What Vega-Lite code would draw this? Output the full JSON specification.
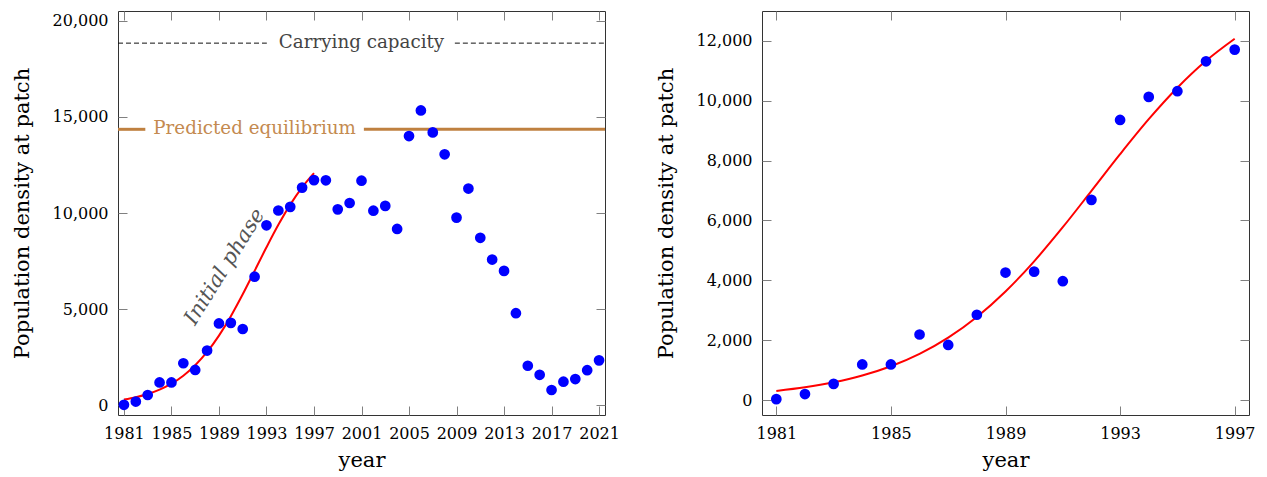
{
  "$schema": "https://vega.github.io/schema/vega-lite/v6.json",
  "padding": {"left": 10, "top": 10, "right": 5, "bottom": 5},
  "datasets": {
    "obs": [
      {"year": 1981, "density": 30}, {"year": 1982, "density": 200}, {"year": 1983, "density": 540},
      {"year": 1984, "density": 1190}, {"year": 1985, "density": 1190}, {"year": 1986, "density": 2190},
      {"year": 1987, "density": 1840}, {"year": 1988, "density": 2850}, {"year": 1989, "density": 4260},
      {"year": 1990, "density": 4290}, {"year": 1991, "density": 3970}, {"year": 1992, "density": 6690},
      {"year": 1993, "density": 9360}, {"year": 1994, "density": 10130}, {"year": 1995, "density": 10320},
      {"year": 1996, "density": 11320}, {"year": 1997, "density": 11710}, {"year": 1998, "density": 11700},
      {"year": 1999, "density": 10190}, {"year": 2000, "density": 10520}, {"year": 2001, "density": 11680},
      {"year": 2002, "density": 10120}, {"year": 2003, "density": 10370}, {"year": 2004, "density": 9170},
      {"year": 2005, "density": 14000}, {"year": 2006, "density": 15330}, {"year": 2007, "density": 14190},
      {"year": 2008, "density": 13050}, {"year": 2009, "density": 9760}, {"year": 2010, "density": 11270},
      {"year": 2011, "density": 8710}, {"year": 2012, "density": 7580}, {"year": 2013, "density": 6990},
      {"year": 2014, "density": 4790}, {"year": 2015, "density": 2060}, {"year": 2016, "density": 1590},
      {"year": 2017, "density": 800}, {"year": 2018, "density": 1230}, {"year": 2019, "density": 1370},
      {"year": 2020, "density": 1830}, {"year": 2021, "density": 2340}
    ],
    "fit": [
      {"year": 1981, "density": 303}, {"year": 1982, "density": 424}, {"year": 1983, "density": 591},
      {"year": 1984, "density": 820}, {"year": 1985, "density": 1130}, {"year": 1986, "density": 1544},
      {"year": 1987, "density": 2086}, {"year": 1988, "density": 2776}, {"year": 1989, "density": 3628},
      {"year": 1990, "density": 4636}, {"year": 1991, "density": 5775}, {"year": 1992, "density": 6990},
      {"year": 1993, "density": 8216}, {"year": 1994, "density": 9384}, {"year": 1995, "density": 10435},
      {"year": 1996, "density": 11335}, {"year": 1997, "density": 12073}
    ],
    "carry": [
      {"from": 1980.5, "to": 1993.03, "level": 18830},
      {"from": 2008.86, "to": 2021.5, "level": 18830}
    ],
    "equil": [
      {"from": 1980.5, "to": 1982.8, "level": 14350},
      {"from": 2001.2, "to": 2021.5, "level": 14350}
    ],
    "notes": [
      {"year": 2001, "density": 18830, "label": "Carrying capacity", "kind": "carry"},
      {"year": 1992, "density": 14350, "label": "Predicted equilibrium", "kind": "equil"}
    ],
    "phase": [
      {"year": 1989.5, "density": 7200, "label": "Initial phase"}
    ]
  },
  "hconcat": [
    {
      "width": 487,
      "height": 404,
      "layer": [
        {
          "data": {"name": "carry"},
          "mark": {"type": "rule", "color": "#111111", "strokeWidth": 1, "strokeDash": [5, 3]},
          "encoding": {
            "x": {"field": "from", "type": "quantitative", "axis": null},
            "x2": {"field": "to"},
            "y": {"field": "level", "type": "quantitative", "axis": null}
          }
        },
        {
          "data": {"name": "equil"},
          "mark": {"type": "rule", "color": "#BF8040", "strokeWidth": 3},
          "encoding": {
            "x": {"field": "from", "type": "quantitative", "axis": null},
            "x2": {"field": "to"},
            "y": {"field": "level", "type": "quantitative", "axis": null}
          }
        },
        {
          "data": {"name": "notes"},
          "mark": {"type": "text", "font": "DejaVu Serif", "fontSize": 18.3, "align": "center", "baseline": "middle"},
          "encoding": {
            "x": {"field": "year", "type": "quantitative", "axis": null},
            "y": {"field": "density", "type": "quantitative", "axis": null},
            "text": {"field": "label"},
            "color": {"field": "kind", "type": "nominal", "scale": {"domain": ["carry", "equil"], "range": ["#444444", "#C48A50"]}, "legend": null}
          }
        },
        {
          "data": {"name": "phase"},
          "mark": {"type": "text", "font": "DejaVu Serif", "fontSize": 21, "fontStyle": "italic", "color": "#555555", "angle": 302, "align": "center", "baseline": "middle"},
          "encoding": {
            "x": {"field": "year", "type": "quantitative", "axis": null},
            "y": {"field": "density", "type": "quantitative", "axis": null},
            "text": {"field": "label"}
          }
        },
        {
          "data": {"name": "fit"},
          "mark": {"type": "line", "color": "#FF0000", "strokeWidth": 2, "interpolate": "monotone"},
          "encoding": {
            "x": {"field": "year", "type": "quantitative", "axis": {"orient": "top", "labels": false, "title": null, "values": [1981, 1985, 1989, 1993, 1997, 2001, 2005, 2009, 2013, 2017, 2021]}},
            "y": {"field": "density", "type": "quantitative", "axis": {"orient": "right", "labels": false, "title": null, "values": [0, 5000, 10000, 15000, 20000]}}
          }
        },
        {
          "data": {"name": "obs"},
          "mark": {"type": "circle", "size": 115, "color": "#0000FF", "opacity": 1},
          "encoding": {
            "x": {"field": "year", "type": "quantitative",
                  "scale": {"domain": [1980.5, 2021.5], "nice": false, "zero": false},
                  "axis": {"orient": "bottom", "title": "year", "format": "d", "values": [1981, 1985, 1989, 1993, 1997, 2001, 2005, 2009, 2013, 2017, 2021]}},
            "y": {"field": "density", "type": "quantitative",
                  "scale": {"domain": [-500, 20500], "nice": false, "zero": false},
                  "axis": {"orient": "left", "title": "Population density at patch", "format": ",d", "values": [0, 5000, 10000, 15000, 20000]}}
          }
        }
      ],
      "resolve": {"axis": {"x": "independent", "y": "independent"}}
    },
    {
      "width": 487,
      "height": 404,
      "layer": [
        {
          "data": {"name": "fit"},
          "mark": {"type": "line", "color": "#FF0000", "strokeWidth": 2, "interpolate": "monotone"},
          "encoding": {
            "x": {"field": "year", "type": "quantitative", "axis": {"orient": "top", "labels": false, "title": null, "values": [1981, 1985, 1989, 1993, 1997]}},
            "y": {"field": "density", "type": "quantitative", "axis": {"orient": "right", "labels": false, "title": null, "values": [0, 2000, 4000, 6000, 8000, 10000, 12000]}}
          }
        },
        {
          "data": {"name": "obs"},
          "transform": [{"filter": "datum.year <= 1997"}],
          "mark": {"type": "circle", "size": 115, "color": "#0000FF", "opacity": 1},
          "encoding": {
            "x": {"field": "year", "type": "quantitative",
                  "scale": {"domain": [1980.5, 1997.5], "nice": false, "zero": false},
                  "axis": {"orient": "bottom", "title": "year", "format": "d", "values": [1981, 1985, 1989, 1993, 1997]}},
            "y": {"field": "density", "type": "quantitative",
                  "scale": {"domain": [-500, 13000], "nice": false, "zero": false},
                  "axis": {"orient": "left", "title": "Population density at patch", "format": ",d", "values": [0, 2000, 4000, 6000, 8000, 10000, 12000]}}
          }
        }
      ],
      "resolve": {"axis": {"x": "independent", "y": "independent"}}
    }
  ],
  "spacing": 157,
  "bounds": "flush",
  "config": {
    "view": {"stroke": "#333333", "strokeWidth": 1},
    "axis": {
      "domain": false,
      "grid": false,
      "labelFont": "DejaVu Serif",
      "labelFontSize": 16,
      "labelColor": "#000000",
      "labelOverlap": false,
      "labelFlush": false,
      "labelPadding": 19,
      "titleFont": "DejaVu Serif",
      "titleFontSize": 21,
      "titleFontWeight": "normal",
      "titleColor": "#000000",
      "titlePadding": 8,
      "tickColor": "#808080",
      "tickSize": -9,
      "tickWidth": 1
    },
    "axisY": {"titlePadding": 20}
  }
}
